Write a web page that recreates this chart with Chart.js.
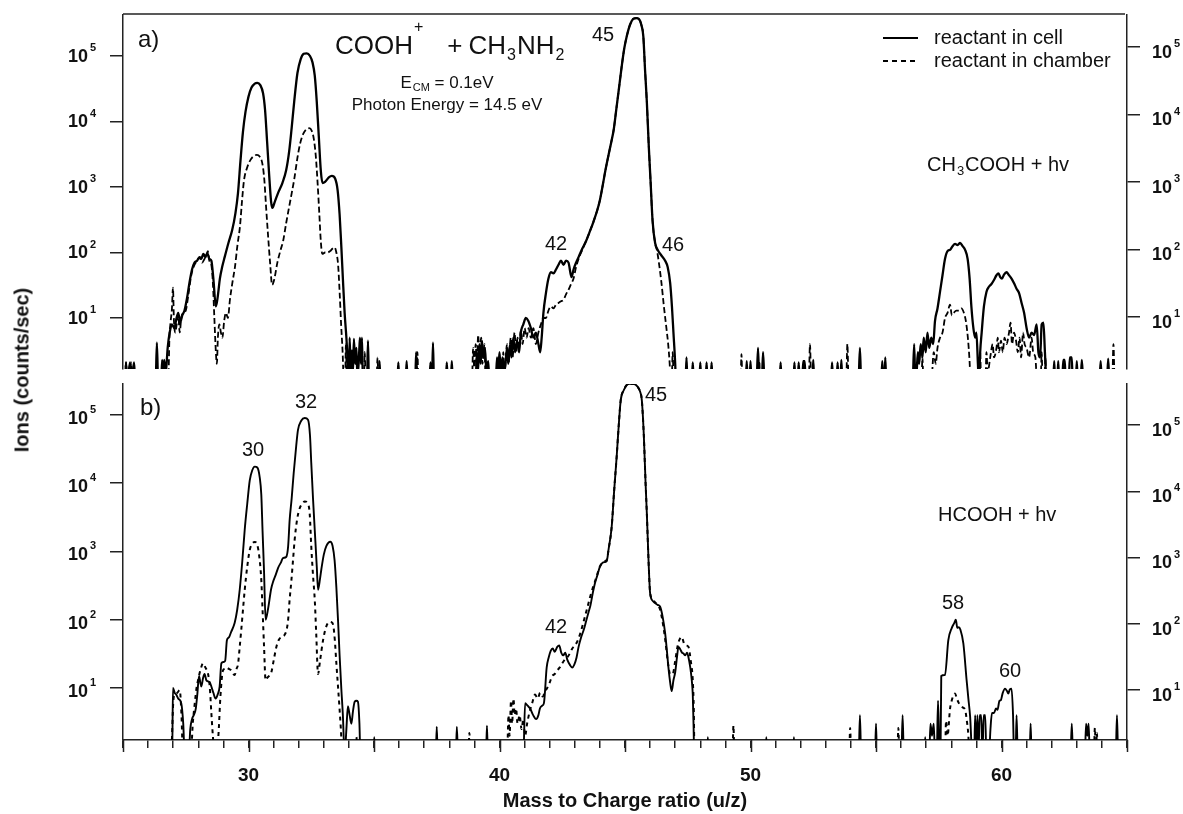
<!DOCTYPE html>
<html><head><meta charset="utf-8">
<script src="https://cdn.jsdelivr.net/npm/chart.js@4.4.1/dist/chart.umd.min.js"></script>
<style>
html,body{margin:0;padding:0;background:#fff;}
#wrap{position:relative;width:1183px;height:814px;overflow:hidden;background:#fff;}
canvas{position:absolute;left:0;}
#ylab{position:absolute;left:22px;top:370px;transform:translate(-50%,-50%) rotate(-90deg);font:bold 20px "Liberation Sans",Arial,sans-serif;white-space:nowrap;color:#111;}
</style></head><body>
<div id="wrap">
<canvas id="ca" width="1183" height="378" style="top:0px"></canvas>
<canvas id="cb" width="1183" height="436" style="top:378px"></canvas>
<div id="ylab">Ions (counts/sec)</div>
</div>
<script>
// ---------- data: [m/z, counts/sec] ----------
const seriesNames = ['reactant in cell', 'reactant in chamber'];
const yDecades = [10, 100, 1000, 10000, 100000];
const xLabelTicks = [30, 40, 50, 60];
const xMajorTicks = [25, 30, 35, 40, 45, 50, 55, 60, 65];

const aCell = [
[25.0,1],[25.08,1],[25.12,2.1],[25.17,1],[25.28,2.1],[25.33,1],[25.44,2.1],[25.49,1],
[26.3,1],[26.35,4.2],[26.4,1],[26.52,1],[26.56,2.3],[26.6,1.2],[26.64,2.3],[26.7,1.4],
[26.78,3.5],[26.86,6],[26.95,8],[27.05,7],[27.12,9.5],[27.2,12],[27.28,8.5],[27.36,11],[27.45,13],[27.55,20],[27.65,35],[27.75,55],[27.85,70],[27.95,75],[28.05,85],[28.12,80],[28.2,95],[28.28,85],[28.36,98],[28.44,80],[28.52,75],[28.6,40],[28.7,15],[28.78,22],[28.86,40],[28.95,60],[29.05,85],[29.2,140],[29.35,220],[29.48,400],[29.58,800],[29.68,2500],[29.78,7000],[29.88,14000],[30.0,24000],[30.12,33000],[30.25,38000],[30.35,39000],[30.47,36000],[30.58,27000],[30.66,15000],[30.74,5000],[30.82,1600],[30.9,600],[30.95,480],[31.05,600],[31.2,850],[31.35,1150],[31.5,1800],[31.62,3500],[31.72,8000],[31.82,20000],[31.95,55000],[32.08,90000],[32.2,108000],[32.32,110000],[32.45,100000],[32.55,80000],[32.64,50000],[32.72,20000],[32.8,6000],[32.88,1800],[32.95,1150],[33.05,1200],[33.2,1400],[33.32,1480],[33.45,1350],[33.55,900],[33.63,380],[33.7,120],[33.76,40],[33.83,12],[33.9,5],[33.96,2],[34.0,1],
[34.03,5],[34.07,1.5],[34.12,3.2],[34.16,1.5],[34.2,4.8],[34.25,2],[34.3,3.5],[34.34,1.2],[34.4,2.5],[34.44,5],[34.48,2],[34.52,5],[34.56,1],[34.72,1],[34.76,4.5],[34.8,1],[35.18,1],[35.22,2.2],[35.26,1],
[35.93,1],[35.97,2.1],[36.01,1],[36.26,1],[36.3,2.2],[36.34,1],[36.64,1],[36.68,3],[36.72,1],[37.21,1],[37.25,2.1],[37.29,1],[37.31,1],[37.35,4.2],[37.39,1],[37.86,1],[37.9,2.1],[37.94,1],[38.06,1],[38.1,2.2],[38.14,1],
[39.05,1],[39.1,3],[39.14,1.5],[39.2,4],[39.25,2],[39.3,4.5],[39.35,2.5],[39.42,3.5],[39.48,1.5],[39.55,2.2],[39.6,1],
[39.85,1],[39.9,2.5],[39.95,1.5],[40.0,3],[40.05,1.5],[40.12,2.5],[40.2,1.5],[40.3,3.5],[40.35,2],[40.42,4],[40.48,2.5],[40.55,5],[40.62,3],[40.7,4.5],[40.78,3],[40.85,6],[40.95,8],[41.05,10],[41.15,9],[41.25,7],[41.35,5],[41.45,6],[41.55,4],[41.62,3],[41.68,5],[41.75,12],[41.85,24],[41.95,40],[42.05,50],[42.15,48],[42.25,55],[42.35,65],[42.45,75],[42.55,65],[42.65,75],[42.75,70],[42.87,42],[42.95,55],[43.05,70],[43.15,85],[43.3,115],[43.45,150],[43.6,210],[43.75,300],[43.9,450],[44.0,630],[44.12,1100],[44.22,1800],[44.33,2900],[44.45,4800],[44.55,7500],[44.65,15000],[44.75,30000],[44.87,70000],[44.97,130000],[45.07,200000],[45.2,300000],[45.33,370000],[45.45,380000],[45.55,370000],[45.65,300000],[45.73,200000],[45.8,60000],[45.87,20000],[45.95,4000],[46.02,1200],[46.1,300],[46.2,140],[46.3,110],[46.45,90],[46.6,75],[46.7,60],[46.8,34],[46.87,15],[46.93,6],[47.0,2],[47.03,1],
[47.41,1],[47.45,2.5],[47.49,1],[47.66,1],[47.7,2.1],[47.74,1],[47.96,1],[48.0,2.1],[48.04,1],[48.21,1],[48.25,2.1],[48.29,1],[48.41,1],[48.45,2.1],[48.49,1],[49.81,1],[49.85,2.2],[49.89,1],[49.96,1],[50.0,2.2],[50.04,1],[50.24,1],[50.3,3.5],[50.35,1],[50.45,1],[50.5,3],[50.56,1],
[51.16,1],[51.2,2.1],[51.24,1],[51.71,1],[51.75,2.1],[51.79,1],[51.88,1],[51.92,2.1],[51.96,1],[52.06,1],[52.1,2.2],[52.16,2.2],[52.2,1],[52.46,1],[52.5,2.3],[52.54,1],[53.21,1],[53.25,2.1],[53.29,1],[53.43,1],[53.47,2.1],[53.51,1],[53.58,1],[53.62,2.3],[53.66,1],[54.3,1],[54.36,3.5],[54.41,1],[55.21,1],[55.25,2.2],[55.29,1],[55.33,1],[55.37,2.5],[55.41,1],
[56.46,1],[56.52,4],[56.57,1],[56.62,1.5],[56.67,3],[56.72,2],[56.78,4],[56.85,2.5],[56.9,5],[56.98,3],[57.05,6],[57.12,3.5],[57.2,5],[57.28,4],[57.35,9],[57.45,14],[57.55,25],[57.65,45],[57.75,80],[57.85,105],[57.95,110],[58.05,125],[58.15,135],[58.25,130],[58.35,140],[58.45,125],[58.55,110],[58.65,80],[58.73,40],[58.8,15],[58.88,7],[58.95,5],[59.0,6],[59.06,2],[59.1,1],[59.15,3],[59.21,6],[59.3,15],[59.4,25],[59.5,30],[59.6,33],[59.7,38],[59.8,45],[59.88,48],[59.95,42],[60.02,40],[60.1,46],[60.2,50],[60.3,45],[60.4,40],[60.5,34],[60.6,28],[60.7,24],[60.8,17],[60.9,12],[61.0,7],[61.1,5],[61.2,6],[61.3,5.5],[61.4,8],[61.47,3],[61.54,2.5],[61.6,8],[61.67,8.5],[61.73,3],[61.8,1],
[62.06,1],[62.1,2.2],[62.14,1],[62.22,1],[62.26,2.2],[62.3,1],[62.42,1],[62.46,2.3],[62.52,2.3],[62.56,1],[62.68,1],[62.72,2.5],[62.8,2.5],[62.84,1],[62.96,1],[63.0,2.2],[63.04,1],[63.15,1],[63.2,2.3],[63.26,1],[63.9,1],[63.95,2.2],[64.0,1],[64.2,1],[64.25,2.4],[64.3,1],[65,1]
];

const aChamber = [
[25.0,1],[25.08,1],[25.12,2.1],[25.16,1],[25.28,1],[25.32,2.1],[25.36,1],
[26.8,1],[26.85,5],[26.9,9],[26.95,14],[26.99,29],[27.03,9],[27.08,6],[27.14,8],[27.2,11],[27.26,6],[27.32,10],[27.4,12],[27.5,13],[27.6,22],[27.72,45],[27.85,65],[27.95,75],[28.05,85],[28.15,70],[28.25,80],[28.32,90],[28.38,105],[28.44,75],[28.52,65],[28.58,35],[28.64,10],[28.7,3],[28.74,2],[28.78,5],[28.84,8],[28.9,6],[28.96,5],[29.03,9],[29.1,12],[29.18,10],[29.26,19],[29.36,35],[29.46,60],[29.56,130],[29.66,250],[29.74,600],[29.82,1260],[29.95,2000],[30.08,2600],[30.2,2950],[30.33,3100],[30.45,2900],[30.55,2300],[30.63,1300],[30.7,500],[30.78,180],[30.86,70],[30.94,32],[31.02,38],[31.15,70],[31.28,110],[31.38,150],[31.5,280],[31.62,500],[31.72,800],[31.82,1300],[31.95,2800],[32.05,4500],[32.18,6500],[32.3,7600],[32.42,7900],[32.52,7200],[32.6,5500],[32.68,3000],[32.75,1200],[32.82,400],[32.88,150],[32.94,95],[33.05,100],[33.15,100],[33.25,105],[33.35,115],[33.43,120],[33.5,100],[33.57,65],[33.63,25],[33.69,8],[33.75,3],[33.8,1],
[33.85,1],[33.88,4],[33.92,1],[33.96,3],[34.0,1],[34.6,1],[34.63,3],[34.67,1],[35.1,1],[35.14,2.5],[35.18,1],
[36.69,1],[36.73,3],[36.77,1],[38.9,1],[38.95,3.5],[39.0,1.5],[39.05,4],[39.1,2],[39.15,5.5],[39.2,2.5],[39.27,5],[39.32,2],[39.4,4],[39.45,1],
[40.1,1],[40.15,3],[40.2,1.5],[40.3,4],[40.36,2],[40.45,5],[40.52,2.5],[40.6,6],[40.66,3],[40.72,5],[40.78,3.5],[40.85,6.5],[40.92,4],[41.0,7],[41.08,5],[41.16,7],[41.25,5],[41.35,7],[41.45,4],[41.55,6],[41.65,8],[41.75,10],[41.85,10],[41.95,13],[42.05,15],[42.15,14],[42.25,16],[42.35,17],[42.45,18],[42.55,19],[42.65,23],[42.75,27],[42.85,33],[42.95,40],[43.05,60],[43.15,80],[43.3,110],[43.45,150],[43.6,210],[43.75,300],[43.9,450],[44.0,630],[44.12,1100],[44.22,1800],[44.33,2900],[44.45,4800],[44.55,7500],[44.65,15000],[44.75,30000],[44.87,70000],[44.97,130000],[45.07,200000],[45.2,300000],[45.33,370000],[45.45,380000],[45.55,370000],[45.65,300000],[45.73,200000],[45.8,60000],[45.87,20000],[45.95,4000],[46.02,1200],[46.1,300],[46.2,140],[46.27,110],[46.35,70],[46.45,35],[46.55,15],[46.65,7],[46.72,4],[46.78,2],[46.82,1],
[46.86,1],[46.9,3],[46.94,1],[49.6,1],[49.64,2.8],[49.68,1],[50.31,1],[50.35,2.2],[50.39,1],[52.32,1],[52.37,4],[52.42,1],[53.81,1],[53.86,4],[53.91,1],[56.81,1],[56.85,2.5],[56.89,1],[57.2,1],[57.3,3],[57.38,2],[57.45,3.5],[57.55,5],[57.65,6],[57.75,10],[57.85,12],[57.95,16],[58.02,11],[58.1,12],[58.2,13],[58.3,13],[58.4,14],[58.5,12],[58.58,9],[58.66,5],[58.72,2.5],[58.78,1],
[59.11,1],[59.15,3],[59.19,1],[59.36,1],[59.4,3],[59.45,1.5],[59.55,2.5],[59.65,4],[59.7,2.5],[59.8,3.5],[59.85,5],[59.9,3],[59.98,4.5],[60.05,3],[60.12,5],[60.2,4],[60.3,6],[60.36,8.5],[60.42,4],[60.5,6],[60.58,4.5],[60.65,3],[60.72,5],[60.78,2.5],[60.86,6],[60.92,4],[61.0,3.5],[61.1,2.5],[61.2,5],[61.26,3],[61.35,2.5],[61.42,1],[61.56,1],[61.6,3],[61.64,1],[61.72,1],[61.75,2.5],[61.79,1],[64.41,1],[64.46,4],[64.51,1],[65,1]
];

const bCell = [
[25,1],[26.9,1],[26.96,1],[26.99,10],[27.06,8.5],[27.12,8],[27.2,7],[27.32,6],[27.4,3],[27.46,1],[27.62,1],[27.68,2.5],[27.75,3.5],[27.82,4],[27.9,5],[27.96,8],[28.03,15],[28.08,12],[28.12,10.5],[28.19,14],[28.25,16],[28.32,13],[28.39,12.5],[28.46,12],[28.52,10.5],[28.6,8.5],[28.69,7],[28.77,8],[28.85,10.5],[28.92,23],[29.0,24],[29.07,25],[29.14,50],[29.22,55],[29.3,65],[29.45,90],[29.55,140],[29.65,275],[29.75,700],[29.85,2100],[29.95,5000],[30.05,11000],[30.15,15500],[30.25,17500],[30.35,17000],[30.45,12000],[30.51,6800],[30.56,2000],[30.62,500],[30.68,100],[30.78,145],[30.9,280],[30.98,360],[31.08,450],[31.18,575],[31.3,700],[31.37,800],[31.5,830],[31.58,1200],[31.64,2900],[31.72,6000],[31.8,14000],[31.9,35000],[31.97,60000],[32.1,82000],[32.24,90000],[32.37,85000],[32.45,50000],[32.5,20000],[32.57,6000],[32.64,2050],[32.72,600],[32.77,275],[32.85,400],[32.9,540],[33.0,900],[33.1,1200],[33.26,1390],[33.35,1200],[33.43,740],[33.5,300],[33.57,93],[33.63,30],[33.7,9.5],[33.76,4],[33.83,1],[33.9,2.5],[33.96,5.4],[34.03,4],[34.1,3],[34.16,4.5],[34.23,6.3],[34.3,6.5],[34.36,6.3],[34.42,3],[34.46,1],
[34.98,1],[35.01,1.9],[35.04,1],[37.46,1],[37.5,2.7],[37.54,1],[38.26,1],[38.3,2.7],[38.35,1],[39.46,1],[39.5,2.8],[39.54,1],
[40.95,1],[41.02,6],[41.12,5.5],[41.22,5],[41.34,4],[41.46,3.5],[41.55,4],[41.61,5],[41.7,5.5],[41.77,6],[41.88,20],[41.96,28],[42.04,35],[42.12,38],[42.2,34],[42.3,40],[42.38,42],[42.46,33],[42.54,30],[42.62,33],[42.7,26],[42.8,22],[42.9,20],[42.98,22],[43.07,28],[43.15,40],[43.25,55],[43.35,70],[43.45,95],[43.55,130],[43.62,160],[43.72,250],[43.8,340],[43.9,450],[44.0,600],[44.1,680],[44.2,700],[44.27,720],[44.35,1100],[44.47,2300],[44.57,8000],[44.67,25000],[44.75,70000],[44.83,165000],[44.95,230000],[45.07,275000],[45.2,285000],[45.34,285000],[45.5,260000],[45.6,220000],[45.67,165000],[45.75,50000],[45.82,10000],[45.87,3600],[45.94,700],[46.0,245],[46.1,190],[46.2,175],[46.3,165],[46.4,155],[46.5,110],[46.6,63],[46.67,35],[46.73,20],[46.8,12],[46.86,9],[46.93,13],[47.0,17],[47.07,28],[47.13,40],[47.2,37],[47.27,33],[47.33,32],[47.4,30],[47.47,33],[47.53,28],[47.6,20],[47.66,13],[47.7,8],[47.73,3],[47.76,1],
[48.27,1],[48.3,1.9],[48.33,1],[50.6,1],[50.63,1.9],[50.66,1],[51.7,1],[51.73,1.9],[51.76,1],[54.31,1],[54.36,4],[54.41,1],[54.96,1],[55.0,3],[55.04,1],[56.01,1],[56.06,4],[56.11,1],[56.93,1],[56.96,1.9],[56.99,1],[57.12,1],[57.17,3],[57.23,2],[57.3,3],[57.35,1],[57.42,1],[57.47,6.5],[57.52,1.5],[57.57,1],[57.6,15],[57.75,15.5],[57.88,50],[58.02,76],[58.12,90],[58.18,100],[58.24,76],[58.3,78],[58.36,72],[58.48,45],[58.61,13],[58.68,7],[58.75,3.8],[58.84,1],[58.91,1],[58.95,4],[58.99,1],[59.04,4],[59.08,1],[59.13,4],[59.19,4],[59.24,1],[59.29,4],[59.35,4],[59.4,1],[59.5,1],[59.56,2.5],[59.62,4.3],[59.7,4.3],[59.78,5],[59.84,4.8],[59.92,6.5],[59.97,6.6],[60.05,8.5],[60.14,9.8],[60.22,9],[60.27,8.3],[60.33,9.5],[60.4,9.8],[60.46,4],[60.5,1],[60.56,1],[60.6,4],[60.65,1],[61.12,1],[61.16,3],[61.2,1],[62.75,1],[62.8,3],[62.85,1],[63.32,1],[63.37,3],[63.42,2],[63.47,3],[63.52,1],[64.55,1],[64.6,4],[64.65,1],[65,1]
];

const bChamber = [
[25,1],[26.9,1],[26.94,1.5],[27.0,6],[27.06,8],[27.16,8.5],[27.26,9.3],[27.33,4],[27.39,1],[27.7,1],[27.78,3],[27.86,6],[27.93,10],[27.99,13],[28.08,18],[28.19,23],[28.28,20],[28.39,16],[28.46,10],[28.52,4.3],[28.58,2],[28.65,1],[28.74,1.5],[28.8,2],[28.88,7.4],[28.98,18],[29.05,19],[29.12,20],[29.22,19],[29.32,18],[29.4,16],[29.45,15.5],[29.52,19],[29.58,22],[29.65,40],[29.71,70],[29.78,140],[29.85,275],[29.95,600],[30.05,1050],[30.15,1300],[30.25,1380],[30.33,1300],[30.42,900],[30.51,380],[30.56,140],[30.62,40],[30.68,13],[30.74,14],[30.82,15],[30.91,17],[31.0,25],[31.11,40],[31.2,50],[31.31,56],[31.44,60],[31.57,93],[31.64,200],[31.71,380],[31.78,800],[31.84,1500],[31.94,3000],[32.04,4300],[32.14,5000],[32.24,5400],[32.37,5000],[32.44,3500],[32.5,1200],[32.57,450],[32.64,195],[32.7,60],[32.77,16],[32.85,25],[32.97,50],[33.1,80],[33.23,93],[33.3,92],[33.37,85],[33.44,50],[33.5,23],[33.57,10],[33.63,4.8],[33.68,2.5],[33.74,1],[34.26,1],[34.3,1.9],[34.34,1],
[38.76,1],[38.8,2.2],[38.84,1],
[40.3,1],[40.36,4],[40.4,2],[40.46,6.5],[40.5,3],[40.56,7],[40.6,4],[40.66,5],[40.72,3],[40.8,4],[40.88,2.5],[40.95,3.5],[41.02,2],[41.1,3],[41.2,4.5],[41.3,6],[41.42,8],[41.52,7],[41.62,8.5],[41.72,7.5],[41.82,9],[41.9,10],[42.0,12],[42.1,15],[42.2,16],[42.3,18],[42.4,20],[42.5,23],[42.6,26],[42.7,28],[42.8,32],[42.9,38],[43.0,42],[43.1,48],[43.2,60],[43.3,80],[43.4,110],[43.5,150],[43.6,210],[43.7,280],[43.8,360],[43.9,470],[44.0,600],[44.1,680],[44.2,720],[44.27,750],[44.35,1100],[44.47,2300],[44.57,8000],[44.67,25000],[44.75,70000],[44.83,165000],[44.95,230000],[45.07,275000],[45.2,285000],[45.34,285000],[45.5,260000],[45.6,220000],[45.67,165000],[45.75,50000],[45.82,10000],[45.87,3600],[45.94,700],[46.0,250],[46.1,200],[46.2,180],[46.3,165],[46.4,140],[46.53,79],[46.62,45],[46.7,25],[46.8,16],[46.9,16],[47.0,25],[47.1,42],[47.18,52],[47.26,56],[47.35,45],[47.45,42],[47.53,40],[47.62,25],[47.7,13],[47.74,5],[47.77,1],
[49.28,1],[49.32,2.8],[49.36,1],[53.93,1],[53.97,2.6],[54.01,1],[55.85,1],[55.89,2.6],[55.93,1],
[57.75,1],[57.79,3.3],[57.85,2],[57.95,5],[58.02,6.6],[58.1,8],[58.15,8.3],[58.22,7],[58.3,6],[58.35,5.6],[58.45,5.2],[58.55,4.8],[58.61,3.5],[58.68,2],[58.72,1],
[63.68,1],[63.72,2.6],[63.76,1],[63.8,2.2],[63.84,1],[65,1]
];

// ---------- drawing ----------
const FAM = '"Liberation Sans", Arial, sans-serif';
Chart.defaults.font.family = FAM;
Chart.defaults.color = '#111';

function drawRich(ctx, it, offY) {
  const size = it.size, wt = it.bold ? 'bold ' : '';
  const small = it.small || Math.round(size * 0.62);
  const parts = it.seg.map(s => {
    const t = s[0], mode = s[1] || 0, dx = s[2] || 0;
    const fs = mode ? small : size;
    ctx.font = wt + fs + 'px ' + FAM;
    return { t, mode, dx, fs, w: ctx.measureText(t).width };
  });
  const total = parts.reduce((a, p) => a + p.w + p.dx, 0);
  let x = it.align === 'center' ? it.x - total / 2 : it.x;
  const y = it.y - offY;
  ctx.textBaseline = 'middle'; ctx.textAlign = 'left'; ctx.fillStyle = '#111';
  parts.forEach(p => {
    x += p.dx;
    ctx.font = wt + p.fs + 'px ' + FAM;
    const yy = p.mode === 1 ? y - (it.supOff || 0.42) * size : p.mode === -1 ? y + (it.subOff || 0.3) * size : y;
    ctx.fillText(p.t, x, yy);
    x += p.w;
  });
}

const decor = {
  id: 'decor',
  afterDraw(chart, args, o) {
    const ctx = chart.ctx, ca = chart.chartArea;
    ctx.save();
    ctx.fillStyle = '#111'; ctx.strokeStyle = '#222'; ctx.lineWidth = 1.5;
    // decade labels 10^n on both y axes
    [['y', 'left'], ['y2', 'right']].forEach(([id, side]) => {
      const s = chart.scales[id];
      yDecades.forEach(v => {
        const py = s.getPixelForValue(v) + (side === 'left' ? o.dyL : o.dyR);
        const exp = String(Math.round(Math.log10(v)));
        ctx.textBaseline = 'middle';
        ctx.font = 'bold 18px ' + FAM;
        const w10 = ctx.measureText('10').width;
        const x10 = side === 'left' ? 88 - w10 : 1152;
        ctx.textAlign = 'left';
        ctx.fillText('10', x10, py);
        ctx.font = 'bold 11px ' + FAM;
        ctx.fillText(exp, x10 + w10 + 2, py - 9);
      });
    });
    if (o.topLine) {
      ctx.beginPath(); ctx.moveTo(ca.left, ca.top - 1); ctx.lineTo(ca.right - 2, ca.top - 1); ctx.stroke();
    }
    if (o.longTicks) {
      const sx = chart.scales.x;
      ctx.beginPath();
      xMajorTicks.forEach(v => {
        const px = Math.round(sx.getPixelForValue(v)) + 0.5;
        ctx.moveTo(px, ca.bottom); ctx.lineTo(px, ca.bottom + 12);
      });
      ctx.stroke();
    }
    (o.legend || []).forEach(l => {
      ctx.save();
      ctx.strokeStyle = '#000'; ctx.lineWidth = 2; ctx.setLineDash(l.dash);
      ctx.beginPath(); ctx.moveTo(l.x1, l.y - o.offY); ctx.lineTo(l.x2, l.y - o.offY); ctx.stroke();
      ctx.restore();
    });
    (o.items || []).forEach(it => drawRich(ctx, it, o.offY));
    ctx.restore();
  }
};

function logAxis(pos, min, max, w) {
  return {
    type: 'logarithmic', position: pos, min, max, bounds: 'data',
    afterBuildTicks: s => { s.ticks = yDecades.map(v => ({ value: v })); },
    afterFit: s => { s.width = w; },
    ticks: { display: false },
    grid: { display: true, drawOnChartArea: false, drawTicks: true, tickLength: 13, color: '#222', lineWidth: 1.5 },
    border: { display: true, color: '#222', width: 1.5 }
  };
}

function ds(label, pts, dash, w) {
  return {
    label, data: pts.map(([x, y]) => ({ x, y })), borderColor: '#000', borderWidth: w,
    borderDash: dash, pointRadius: 0, fill: false, cubicInterpolationMode: 'monotone', yAxisID: 'y'
  };
}

const common = {
  responsive: false, animation: false, events: [],
  plugins: { legend: { display: false }, tooltip: { enabled: false } }
};

new Chart(document.getElementById('ca'), {
  type: 'line',
  data: { datasets: [ds(seriesNames[0], aCell, [], 2.3), ds(seriesNames[1], aChamber, [6, 3], 1.8)] },
  options: {
    ...common,
    layout: { padding: { top: 15, bottom: 9, left: 0, right: 0 } },
    scales: {
      x: { type: 'linear', min: 25, max: 65, display: false },
      y: logAxis('left', 1.665, 4.23e5, 123),
      y2: logAxis('right', 1.697, 2.98e5, 56)
    },
    plugins: {
      ...common.plugins,
      decor: {
        offY: 0, dyL: 1, dyR: 6, topLine: true,
        legend: [{ x1: 883, x2: 918, y: 38, dash: [] }, { x1: 883, x2: 918, y: 61, dash: [5, 4] }],
        items: [
          { seg: [['a)']], x: 138, y: 40, size: 24 },
          { seg: [['COOH'], ['+', 1, 1], ['+', 0, 24], ['CH', 0, 6], ['3', -1, 1], ['NH', 0, 1], ['2', -1, 1]], x: 335, y: 47, size: 26, small: 16, supOff: 0.75, subOff: 0.33 },
          { seg: [['E'], ['CM', -1, 1], [' = 0.1eV']], x: 447, y: 83, size: 17, align: 'center', small: 11 },
          { seg: [['Photon Energy = 14.5 eV']], x: 447, y: 105, size: 17, align: 'center' },
          { seg: [['45']], x: 603, y: 35, size: 20, align: 'center' },
          { seg: [['42']], x: 556, y: 244, size: 20, align: 'center' },
          { seg: [['46']], x: 673, y: 245, size: 20, align: 'center' },
          { seg: [['CH'], ['3', -1, 1], ['COOH + hv', 0, 1]], x: 927, y: 165, size: 20, small: 13 },
          { seg: [['reactant in cell']], x: 934, y: 38, size: 20 },
          { seg: [['reactant in chamber']], x: 934, y: 61, size: 20 }
        ]
      }
    }
  },
  plugins: [decor]
});

new Chart(document.getElementById('cb'), {
  type: 'line',
  data: { datasets: [ds(seriesNames[0], bCell, [], 1.9), ds(seriesNames[1], bChamber, [4, 4], 2)] },
  options: {
    ...common,
    layout: { padding: { top: 6, bottom: 0, left: 0, right: 0 } },
    scales: {
      x: {
        type: 'linear', min: 25, max: 65, position: 'bottom',
        afterFit: s => { s.height = 74; },
        ticks: { stepSize: 1, autoSkip: false, maxRotation: 0, minRotation: 0, padding: 16, color: '#111',
          font: { size: 19, weight: 'bold' }, callback: v => xLabelTicks.includes(v) ? String(v) : '' },
        grid: { drawOnChartArea: false, drawTicks: true, tickLength: 8, color: '#222', lineWidth: 1.5 },
        border: { display: true, color: '#222', width: 1.5 },
        title: { display: true, text: 'Mass to Charge ratio (u/z)', color: '#111', font: { size: 20, weight: 'bold' }, padding: { top: 0, bottom: 1 } }
      },
      y: logAxis('left', 1.73, 2.84e5, 123),
      y2: logAxis('right', 1.76, 4.16e5, 56)
    },
    plugins: {
      ...common.plugins,
      decor: {
        offY: 378, dyL: 4, dyR: 6, longTicks: true,
        items: [
          { seg: [['b)']], x: 140, y: 408, size: 24 },
          { seg: [['30']], x: 253, y: 450, size: 20, align: 'center' },
          { seg: [['32']], x: 306, y: 402, size: 20, align: 'center' },
          { seg: [['42']], x: 556, y: 627, size: 20, align: 'center' },
          { seg: [['45']], x: 656, y: 395, size: 20, align: 'center' },
          { seg: [['58']], x: 953, y: 603, size: 20, align: 'center' },
          { seg: [['60']], x: 1010, y: 671, size: 20, align: 'center' },
          { seg: [['HCOOH + hv']], x: 938, y: 515, size: 20 }
        ]
      }
    }
  },
  plugins: [decor]
});
</script>
</body></html>
